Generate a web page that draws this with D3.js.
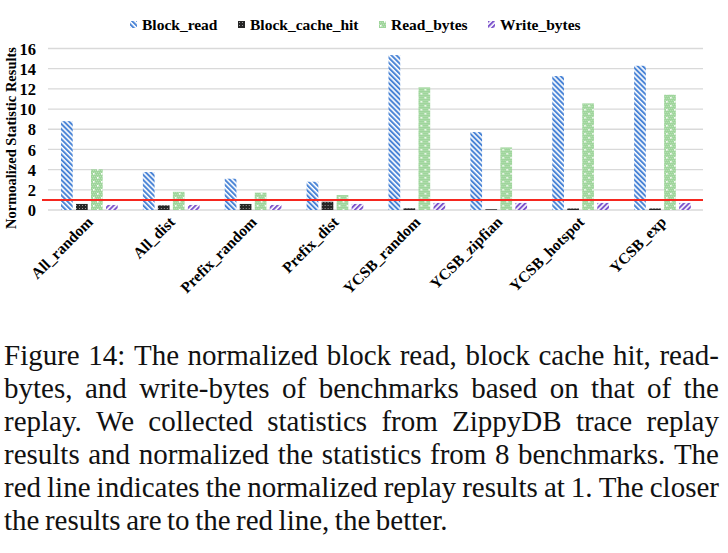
<!DOCTYPE html>
<html>
<head>
<meta charset="utf-8">
<script src="https://cdn.jsdelivr.net/npm/d3@7"></script>
<style>
  html, body { margin: 0; padding: 0; background: #fff; }
  svg { display: block; }
</style>
</head>
<body>
<script>
// ---- data ----
const categories = ["All_random", "All_dist", "Prefix_random", "Prefix_dist", "YCSB_random", "YCSB_zipfian", "YCSB_hotspot", "YCSB_exp"];
const seriesNames = ["Block_read", "Block_cache_hit", "Read_bytes", "Write_bytes"];
const blockRead     = [8.8, 3.76, 3.1, 2.8, 15.35, 7.72, 13.27, 14.29];
const blockCacheHit = [0.6, 0.46, 0.6, 0.82, 0.17, 0.07, 0.15, 0.15];
const readBytes     = [4.03, 1.8, 1.72, 1.48, 12.15, 6.2, 10.56, 11.42];
const writeBytes    = [0.5, 0.5, 0.5, 0.6, 0.7, 0.7, 0.7, 0.7];
const yTicks = [0, 2, 4, 6, 8, 10, 12, 14, 16];
const replayLevel = 1;
const yTitle = "Normoalized Statistic Results";
const captionLines = [
  "Figure 14: The normalized block read, block cache hit, read-",
  "bytes, and write-bytes of benchmarks based on that of the",
  "replay. We collected statistics from ZippyDB trace replay",
  "results and normalized the statistics from 8 benchmarks. The",
  "red line indicates the normalized replay results at 1. The closer",
  "the results are to the red line, the better."
];
const seriesValues = [blockRead, blockCacheHit, readBytes, writeBytes];

const W = 728, H = 553;
const svg = d3.select("body").append("svg").attr("width", W).attr("height", H);
const serif = "'Liberation Serif', 'Times New Roman', Times, serif";

// ---- patterns ----
const defs = svg.append("defs");
function stripePattern(id, color, angle) {
  const p = defs.append("pattern").attr("id", id).attr("patternUnits", "userSpaceOnUse")
    .attr("width", 3.6).attr("height", 4).attr("patternTransform", `rotate(${angle})`);
  p.append("rect").attr("width", 3.6).attr("height", 4).attr("fill", "#ffffff");
  p.append("rect").attr("width", 2).attr("height", 4).attr("fill", color);
}
stripePattern("pBR", "#4a84d6", -45);
stripePattern("pWB", "#7d55cc", 45);
(function () {
  const p = defs.append("pattern").attr("id", "pCH").attr("patternUnits", "userSpaceOnUse")
    .attr("width", 3).attr("height", 3);
  p.append("rect").attr("width", 3).attr("height", 3).attr("fill", "#262626");
  p.append("rect").attr("x", 1).attr("y", 1).attr("width", 1).attr("height", 1).attr("fill", "#9a9a9a");
})();
(function () {
  const p = defs.append("pattern").attr("id", "pRB").attr("patternUnits", "userSpaceOnUse")
    .attr("width", 8).attr("height", 8);
  p.append("rect").attr("width", 8).attr("height", 8).attr("fill", "#9fd59c");
  for (let i = 0; i < 8; i += 2) for (let j = 0; j < 8; j += 2) {
    p.append("rect").attr("x", i + ((j / 2) % 2)).attr("y", j).attr("width", 1).attr("height", 1).attr("fill", "#b9e2b6");
  }
  p.append("rect").attr("x", 1).attr("y", 1).attr("width", 1.6).attr("height", 1.6).attr("fill", "#ffffff");
  p.append("rect").attr("x", 5).attr("y", 5).attr("width", 1.6).attr("height", 1.6).attr("fill", "#ffffff");
})();
const fills = ["url(#pBR)", "url(#pCH)", "url(#pRB)", "url(#pWB)"];

// ---- scales ----
const x0 = d3.scaleBand().domain(categories).range([48, 703]).padding(0);
const x1 = d3.scaleBand().domain(seriesNames).range([13, 69.7]).paddingInner(0.22).paddingOuter(0);
const y = d3.scaleLinear().domain([0, 16]).range([210, 48.5]);

// ---- gridlines ----
svg.append("g").selectAll("line").data(yTicks).join("line")
  .attr("x1", 48).attr("x2", 703)
  .attr("y1", d => y(d)).attr("y2", d => y(d))
  .attr("stroke", "#d9d9d9").attr("stroke-width", 1.3);

// ---- y axis labels ----
const yAxis = d3.axisLeft(y).tickValues(yTicks).tickSize(0).tickPadding(0);
const gy = svg.append("g").attr("transform", "translate(36,0)").call(yAxis);
gy.select(".domain").remove();
gy.selectAll("text").attr("font-family", serif).attr("font-weight", "bold")
  .attr("font-size", 16.5).attr("fill", "#000").attr("dy", "0.34em");

// y title
svg.append("text")
  .attr("transform", `translate(16,138) rotate(-90)`)
  .attr("text-anchor", "middle")
  .attr("font-family", serif).attr("font-weight", "bold").attr("font-size", 14.5)
  .text(yTitle);

// ---- bars ----
const groups = svg.append("g").selectAll("g").data(categories).join("g")
  .attr("transform", d => `translate(${x0(d)},0)`);
groups.selectAll("rect").data((c, ci) => seriesNames.map((s, si) => ({ s, si, v: seriesValues[si][ci] })))
  .join("rect")
  .attr("x", d => x1(d.s)).attr("width", x1.bandwidth())
  .attr("y", d => y(d.v)).attr("height", d => y(0) - y(d.v))
  .attr("fill", d => fills[d.si]);

// ---- red reference line ----
svg.append("line")
  .attr("x1", 42).attr("x2", 703)
  .attr("y1", y(replayLevel)).attr("y2", y(replayLevel))
  .attr("stroke", "#f5271f").attr("stroke-width", 2);

// ---- x labels ----
svg.append("g").selectAll("text").data(categories).join("text")
  .attr("transform", d => `translate(${x0(d) + x0.bandwidth() / 2 + 5},223) rotate(-45)`)
  .attr("text-anchor", "end")
  .attr("font-family", serif).attr("font-weight", "bold").attr("font-size", 15.5)
  .text(d => d);

// ---- legend ----
const legendX = [130, 238, 379, 488];
const leg = svg.append("g").selectAll("g").data(seriesNames).join("g")
  .attr("transform", (d, i) => `translate(${legendX[i]},0)`);
leg.append("rect").attr("x", 0).attr("y", 21).attr("width", 7).attr("height", 7)
  .attr("fill", (d, i) => fills[i]);
leg.append("text").attr("x", 12).attr("y", 30)
  .attr("font-family", serif).attr("font-weight", "bold").attr("font-size", 15.5)
  .text(d => d);

// ---- caption (justified) ----
const capX0 = 4, capX1 = 719, capY0 = 365, capLH = 33, capFS = 29, minGap = 4.5;
captionLines.forEach((line, li) => {
  const words = line.split(" ");
  const yy = capY0 + li * capLH;
  const g = svg.append("g");
  const nodes = words.map(w => g.append("text").attr("y", yy)
    .attr("font-family", serif).attr("font-size", capFS).attr("fill", "#111").text(w));
  const widths = nodes.map(n => n.node().getComputedTextLength());
  const sum = d3.sum(widths);
  const last = li === captionLines.length - 1;
  let gap = last ? 5.5 : (capX1 - capX0 - sum) / (words.length - 1);
  let scale = 1;
  if (!last && gap < minGap) {
    gap = minGap;
    scale = (capX1 - capX0 - gap * (words.length - 1)) / sum;
  }
  let xx = capX0;
  nodes.forEach((n, i) => {
    n.attr("x", xx);
    if (scale !== 1) n.attr("textLength", widths[i] * scale).attr("lengthAdjust", "spacingAndGlyphs");
    xx += widths[i] * scale + gap;
  });
});
</script>
</body>
</html>
